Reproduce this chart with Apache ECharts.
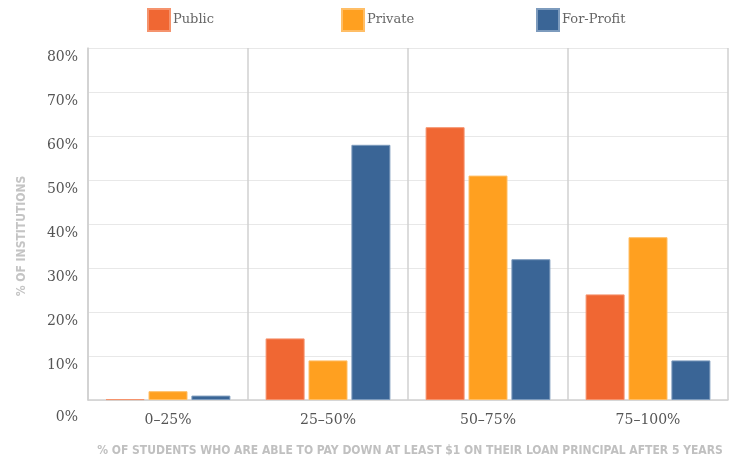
<!DOCTYPE html>
<html><head><meta charset="utf-8">
<script src="https://cdn.jsdelivr.net/npm/echarts@6/dist/echarts.min.js"></script>
<style>html,body{margin:0;padding:0;background:#fff}#c{width:732px;height:458px}</style>
</head><body><div id="c"></div>
<script>
const categories = ['0–25%', '25–50%', '50–75%', '75–100%'];
const publicVals = [0.2, 14, 62, 24];
const privateVals = [2, 9, 51, 37];
const forProfitVals = [1, 58, 32, 9];
const yTicks = { min: 0, max: 80, interval: 10 };
const xTitle = '% OF STUDENTS WHO ARE ABLE TO PAY DOWN AT LEAST $1 ON THEIR LOAN PRINCIPAL AFTER 5 YEARS';
const yTitle = '% OF INSTITUTIONS';

const serif = 'DejaVu Serif';
const titleFont = '"DejaVu Sans Condensed", Roboto, sans-serif';
const chart = echarts.init(document.getElementById('c'));
const legendBase = { top: 8, padding: 0, itemWidth: 22, itemHeight: 22, itemGap: 5, icon: 'rect',
  textStyle: { fontFamily: serif, fontSize: 13, color: '#666', padding: [2, 0, 0, -2] } };
chart.setOption({
  animation: false,
  legend: [
    Object.assign({}, legendBase, { data: ['Public'], left: 147 }),
    Object.assign({}, legendBase, { data: ['Private'], left: 341 }),
    Object.assign({}, legendBase, { data: ['For-Profit'], left: 536 })
  ],
  grid: { left: 88, right: 4, top: 48, bottom: 58, outerBoundsMode: 'none', containLabel: false },
  xAxis: {
    type: 'category', data: categories,
    axisLine: { lineStyle: { color: '#d0d0d0', width: 1.5 } },
    axisTick: { show: false },
    splitLine: { show: true, lineStyle: { color: '#d0d0d0', width: 1.5 } },
    axisLabel: { fontFamily: serif, fontSize: 14, color: '#555', margin: 13 },
    name: xTitle, nameLocation: 'middle', nameGap: 45,
    nameTextStyle: { fontFamily: titleFont, fontWeight: 'bold', fontSize: 12, color: '#c0c0c0', padding: [0, 0, 0, 4] }
  },
  yAxis: {
    type: 'value', min: yTicks.min, max: yTicks.max, interval: yTicks.interval,
    axisLine: { show: true, lineStyle: { color: '#d0d0d0', width: 1.5 } },
    splitLine: { lineStyle: { color: '#e8e8e8' } },
    axisLabel: {
      formatter: function (v) { return v === 0 ? '{z|' + v + '%}' : '{n|' + v + '%}'; },
      margin: 10,
      rich: {
        n: { fontFamily: serif, fontSize: 14, color: '#555', padding: [18, 0, 0, 0] },
        z: { fontFamily: serif, fontSize: 14, color: '#555', padding: [34, 0, 0, 0] }
      }
    },
    name: yTitle, nameLocation: 'middle', nameGap: 60, nameRotate: 90,
    nameTextStyle: { fontFamily: titleFont, fontWeight: 'bold', fontSize: 12, color: '#c4c4c4', padding: [0, 24, 0, 0] }
  },
  series: [
    { name: 'Public', type: 'bar', data: publicVals, barWidth: 39, barGap: '10%',
      itemStyle: { color: '#F06733', borderColor: '#F5936D', borderWidth: 1 } },
    { name: 'Private', type: 'bar', data: privateVals, barWidth: 39, barGap: '10%',
      itemStyle: { color: '#FFA020', borderColor: '#FFBE66', borderWidth: 1 } },
    { name: 'For-Profit', type: 'bar', data: forProfitVals, barWidth: 39, barGap: '10%',
      itemStyle: { color: '#3A6596', borderColor: '#7d9bbd', borderWidth: 1 } }
  ]
});
</script></body></html>
